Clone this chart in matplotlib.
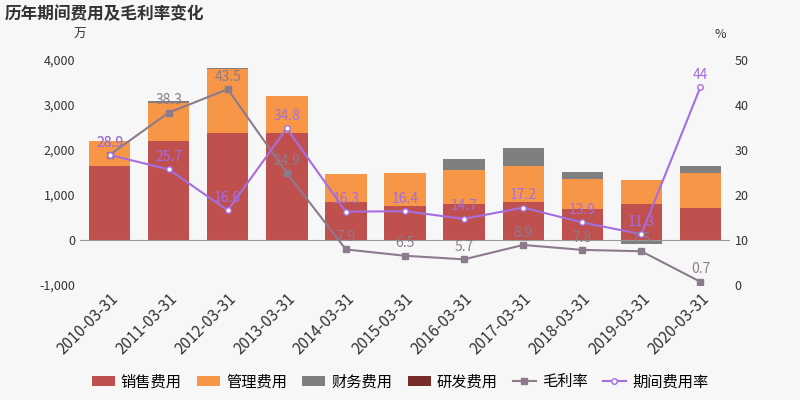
import matplotlib.pyplot as plt
import numpy as np
plt.rcParams['font.family'] = ['Noto Sans CJK SC', 'DejaVu Sans']

years = ['2010-03-31','2011-03-31','2012-03-31','2013-03-31','2014-03-31','2015-03-31',
         '2016-03-31','2017-03-31','2018-03-31','2019-03-31','2020-03-31']
sales = [1650, 2200, 2370, 2380, 850, 750, 800, 850, 700, 800, 720]
admin = [550, 850, 1430, 820, 620, 730, 750, 800, 650, 530, 780]
fin = [-20, 30, 30, 0, 0, 0, 250, 400, 170, -80, 150]
rd = [0]*11
gross = [28.9, 38.3, 43.5, 24.9, 7.9, 6.5, 5.7, 8.9, 7.8, 7.5, 0.7]
expense = [28.9, 25.7, 16.6, 34.8, 16.3, 16.4, 14.7, 17.2, 13.9, 11.3, 44]

fig = plt.figure(figsize=(8, 4), dpi=100, facecolor='#f7f7f7')
ax = fig.add_axes([0.1, 0.2875, 0.8125, 0.5625])
ax.set_facecolor('#f7f7f7')
x = np.arange(len(years))
w = 0.7
s = np.array(sales); a = np.array(admin); f = np.array(fin)
ax.bar(x, s, w, color='#c0504d', label='销售费用')
ax.bar(x, a, w, bottom=s, color='#f79646', label='管理费用')
fb = np.where(f >= 0, s + a, 0)
ax.bar(x, f, w, bottom=fb, color='#7f7f7f', label='财务费用')
ax.bar(x, rd, w, bottom=s + a, color='#772c2a', label='研发费用')
ax.set_ylim(-1000, 4000)
ax.set_yticks(range(-1000, 4001, 1000))
ax.set_yticklabels([f'{v:,}' for v in range(-1000, 4001, 1000)], fontsize=9, color='#333')
ax.set_xlim(-0.5, len(years) - 0.5)
ax.set_xticks(x)
ax.set_xticklabels(years, rotation=45, ha='right', rotation_mode='anchor', fontsize=11, color='#333')
ax.axhline(0, color='#999', lw=0.8)
for sp in ax.spines.values():
    sp.set_visible(False)
ax.tick_params(length=0)

ax2 = ax.twinx()
ax2.set_ylim(0, 50)
ax2.set_yticks(range(0, 51, 10))
ax2.tick_params(length=0, labelsize=9, labelcolor='#333')
for sp in ax2.spines.values():
    sp.set_visible(False)
ax2.plot(x, gross, color='#8c7b8c', marker='s', ms=4, lw=1.5, label='毛利率')
ax2.plot(x, expense, color='#a56ee0', marker='o', ms=4, mfc='white', lw=1.5, label='期间费用率')
for i in range(len(x)):
    ax2.text(x[i], gross[i] + 1.2, f'{gross[i]:g}', ha='center', va='bottom', fontsize=10, color='#8c7b8c')
    ax2.text(x[i], expense[i] + 1.2, f'{expense[i]:g}', ha='center', va='bottom', fontsize=10, color='#a56ee0')

fig.text(0.006, 0.965, '历年期间费用及毛利率变化', fontsize=12, fontweight='bold', color='#333', va='center')
fig.text(0.1, 0.905, '万', fontsize=9, color='#333', ha='center')
fig.text(0.9, 0.905, '%', fontsize=9, color='#333', ha='center')
h1, l1 = ax.get_legend_handles_labels()
h2, l2 = ax2.get_legend_handles_labels()
fig.legend(h1 + h2, l1 + l2, loc='lower center', bbox_to_anchor=(0.5, -0.01), ncol=6,
           frameon=False, fontsize=11, handlelength=1.5, columnspacing=1.0, handletextpad=0.4)
fig.savefig('out.png', facecolor=fig.get_facecolor())
